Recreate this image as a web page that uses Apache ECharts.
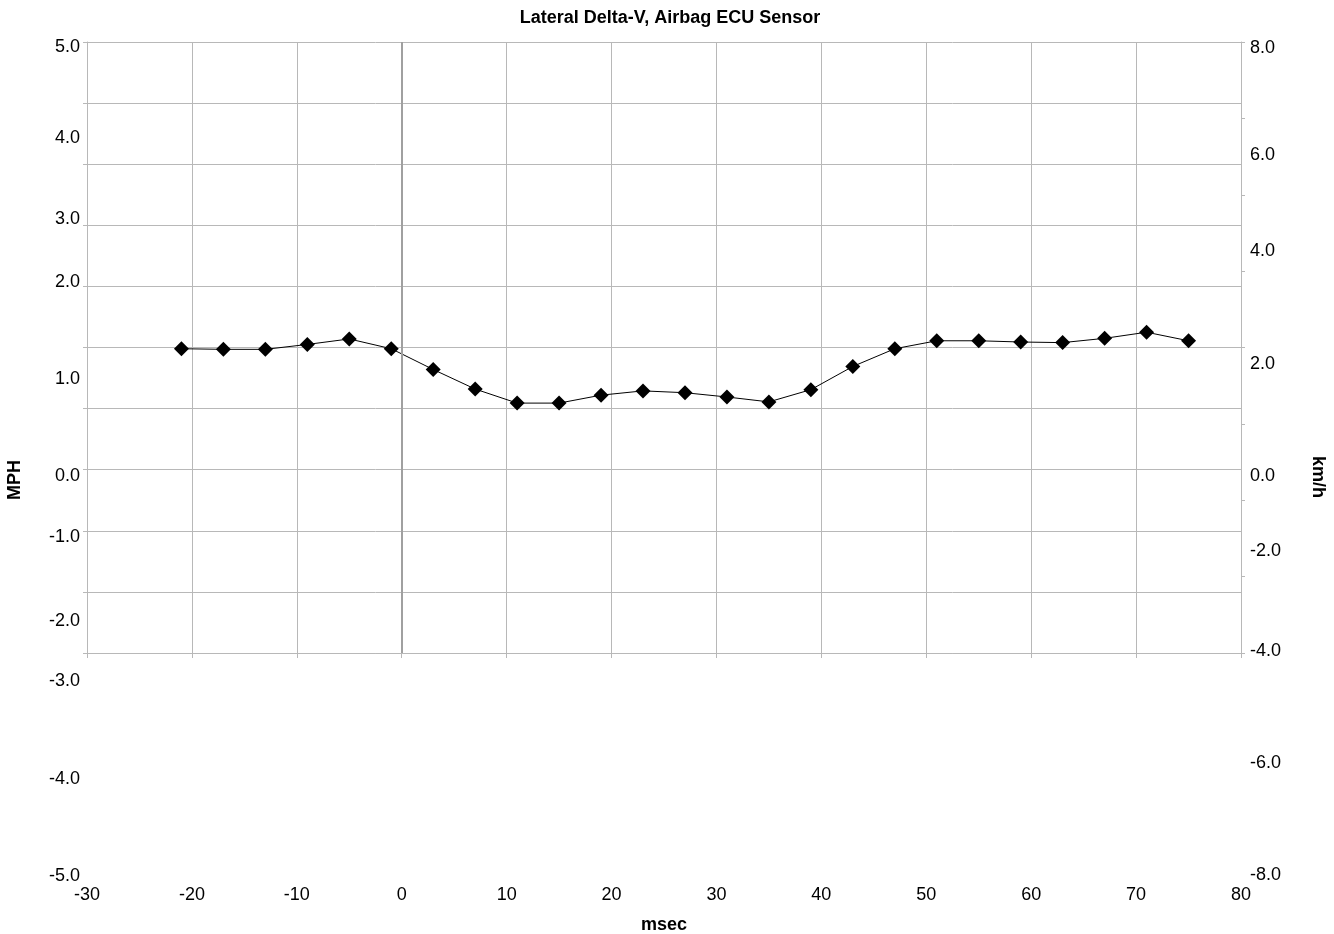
<!DOCTYPE html>
<html>
<head>
<meta charset="utf-8">
<script src="https://cdn.jsdelivr.net/npm/echarts@6/dist/echarts.min.js"></script>
<style>
  html, body { margin: 0; padding: 0; background: #fff; }
  #chart { width: 1334px; height: 934px; }
</style>
</head>
<body>
<div id="chart"></div>
<script>
// Sample times (msec) and lateral delta-V (MPH)
const timeMs = [-21, -17, -13, -9, -5, -1, 3, 7, 11, 15, 19, 23, 27, 31, 35, 39, 43, 47, 51, 55, 59, 63, 67, 71, 75];
const deltaVMph = [-0.02, -0.03, -0.03, 0.05, 0.14, -0.02, -0.36, -0.68, -0.91, -0.91, -0.78, -0.71, -0.74, -0.81, -0.89, -0.69, -0.31, -0.02, 0.11, 0.11, 0.09, 0.08, 0.15, 0.25, 0.11];

// Tick label texts for the two vertical scales
const mphLabels = ['5.0', '4.0', '3.0', '2.0', '1.0', '0.0', '-1.0', '-2.0', '-3.0', '-4.0', '-5.0'];
const kmhLabels = ['8.0', '6.0', '4.0', '2.0', '0.0', '-2.0', '-4.0', '-6.0', '-8.0'];

// Vertical placement of the label columns (px)
const mphLabelY = [47, 138, 219, 282, 379, 476, 537, 621, 681, 779, 876];
const kmhLabelY = [48, 155, 251, 364, 476, 551, 651, 763, 875];

const FONT = '"Liberation Sans", Arial, sans-serif';
const GRID_COLOR = '#b8b8b8';

const chart = echarts.init(document.getElementById('chart'), null, { renderer: 'canvas' });

const graphics = [];
mphLabels.forEach((t, i) => {
  graphics.push({
    type: 'text', x: 80, y: mphLabelY[i],
    style: { text: t, font: '18px ' + FONT, fill: '#000', textAlign: 'right', textVerticalAlign: 'middle' }
  });
});
kmhLabels.forEach((t, i) => {
  graphics.push({
    type: 'text', x: 1250, y: kmhLabelY[i],
    style: { text: t, font: '18px ' + FONT, fill: '#000', textAlign: 'left', textVerticalAlign: 'middle' }
  });
});
graphics.push({
  type: 'text', x: 15, y: 480, rotation: Math.PI / 2,
  style: { text: 'MPH', font: 'bold 18px ' + FONT, fill: '#000', textAlign: 'center', textVerticalAlign: 'middle' }
});
graphics.push({
  type: 'text', x: 1318, y: 477, rotation: -Math.PI / 2,
  style: { text: 'km/h', font: 'bold 18px ' + FONT, fill: '#000', textAlign: 'center', textVerticalAlign: 'middle' }
});

chart.setOption({
  animation: false,
  backgroundColor: '#fff',
  title: {
    text: 'Lateral Delta-V, Airbag ECU Sensor',
    left: 665, top: 4, textAlign: 'center',
    textStyle: { fontFamily: FONT, fontSize: 18, fontWeight: 'bold', color: '#000' }
  },
  grid: { left: 87, right: 93, top: 42, bottom: 281, containLabel: false, outerBoundsMode: 'none' },
  xAxis: {
    type: 'value', min: -30, max: 80, interval: 10,
    name: 'msec', nameLocation: 'middle', nameGap: 263,
    nameTextStyle: { fontFamily: FONT, fontSize: 18, fontWeight: 'bold', color: '#000' },
    axisLine: { show: true, onZero: false, lineStyle: { color: GRID_COLOR, width: 1 } },
    axisTick: { show: true, length: 5, lineStyle: { color: GRID_COLOR } },
    axisLabel: { margin: 233, fontFamily: FONT, fontSize: 18, color: '#000' },
    splitLine: { show: true, lineStyle: { color: GRID_COLOR, width: 1 } }
  },
  yAxis: [
    {
      type: 'value', min: -5, max: 5, interval: 1, position: 'left',
      axisLine: { show: true, onZero: false, lineStyle: { color: GRID_COLOR, width: 1 } },
      axisTick: { show: true, length: 4, lineStyle: { color: GRID_COLOR } },
      axisLabel: { show: false },
      splitLine: { show: true, lineStyle: { color: GRID_COLOR, width: 1 } }
    },
    {
      type: 'value', min: -8, max: 8, interval: 2, position: 'right',
      axisLine: { show: true, onZero: false, lineStyle: { color: GRID_COLOR, width: 1 } },
      axisTick: { show: true, length: 4, lineStyle: { color: GRID_COLOR } },
      axisLabel: { show: false },
      splitLine: { show: false }
    }
  ],
  graphic: graphics,
  series: [{
    type: 'line',
    data: timeMs.map((t, i) => [t, deltaVMph[i]]),
    yAxisIndex: 0,
    symbol: 'diamond',
    symbolSize: 15,
    showAllSymbol: true,
    lineStyle: { color: '#000', width: 1 },
    itemStyle: { color: '#000' },
    markLine: {
      silent: true,
      symbol: 'none',
      label: { show: false },
      lineStyle: { color: '#a0a0a0', width: 2, type: 'solid' },
      data: [{ xAxis: 0 }]
    },
    z: 3
  }]
});
</script>
</body>
</html>
